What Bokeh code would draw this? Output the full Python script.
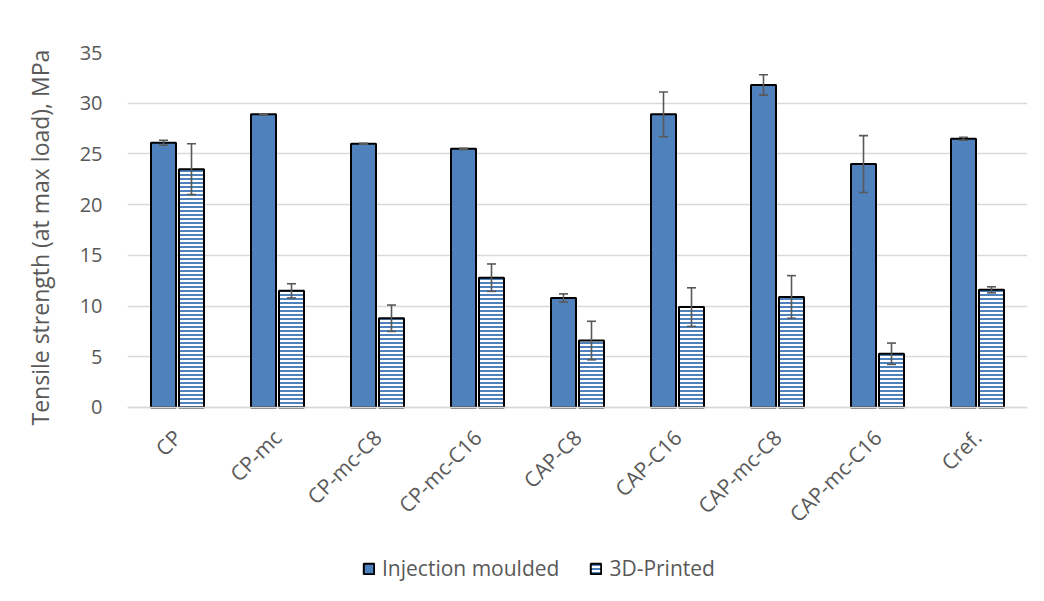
from bokeh.plotting import figure
from bokeh.models import ColumnDataSource, FactorRange, Legend, LegendItem, Range1d, Title
from bokeh.transform import dodge
from bokeh.embed import file_html
from bokeh.resources import INLINE
from math import pi

categories = ["CP", "CP-mc", "CP-mc-C8", "CP-mc-C16", "CAP-C8", "CAP-C16",
              "CAP-mc-C8", "CAP-mc-C16", "Cref."]
injection = [26.1, 28.9, 26.0, 25.5, 10.8, 28.9, 31.8, 24.0, 26.5]
injection_err = [0.25, 0.05, 0.05, 0.05, 0.4, 2.2, 1.0, 2.8, 0.15]
printed = [23.5, 11.5, 8.8, 12.8, 6.6, 9.9, 10.9, 5.3, 11.6]
printed_err = [2.5, 0.7, 1.3, 1.35, 1.9, 1.9, 2.1, 1.05, 0.3]
y_ticks = [0, 5, 10, 15, 20, 25, 30, 35]
y_label = "Tensile strength (at max load), MPa"

FONT = "Open Sans"
TXT = "#595959"
BLUE = "#4F81BD"

src = ColumnDataSource(dict(
    cat=categories,
    inj=injection,
    inj_lo=[v - e for v, e in zip(injection, injection_err)],
    inj_hi=[v + e for v, e in zip(injection, injection_err)],
    pr=printed,
    pr_lo=[v - e for v, e in zip(printed, printed_err)],
    pr_hi=[v + e for v, e in zip(printed, printed_err)],
))

# frame extends below zero to host the category labels and the legend
p = figure(frame_width=900, frame_height=541, output_backend="svg", toolbar_location=None,
           x_range=FactorRange(factors=categories, range_padding=0),
           y_range=Range1d(-18.34, 35),
           min_border_left=127, min_border_right=1, min_border_top=52,
           min_border_bottom=0)
p.outline_line_color = None

OFF = 0.14
W = 0.25
CAP = 0.045

r1 = p.vbar(x=dodge("cat", -OFF, range=p.x_range), top="inj", bottom=0, width=W,
            source=src, fill_color=BLUE, line_color="black", line_width=2)
r2 = p.vbar(x=dodge("cat", OFF, range=p.x_range), top="pr", bottom=0, width=W,
            source=src, fill_color="white", line_color="black", line_width=2,
            hatch_pattern="horizontal_line", hatch_color=BLUE, hatch_scale=4,
            hatch_weight=2)

for off, lo, hi in [(-OFF, "inj_lo", "inj_hi"), (OFF, "pr_lo", "pr_hi")]:
    p.segment(x0=dodge("cat", off, range=p.x_range), x1=dodge("cat", off, range=p.x_range),
              y0=lo, y1=hi, source=src, line_color=TXT, line_width=1.6)
    for yy in (lo, hi):
        p.segment(x0=dodge("cat", off - CAP, range=p.x_range),
                  x1=dodge("cat", off + CAP, range=p.x_range),
                  y0=yy, y1=yy, source=src, line_color=TXT, line_width=1.6)

p.ygrid.ticker = y_ticks
p.ygrid.grid_line_color = "#d9d9d9"
p.ygrid.grid_line_width = 1.5
p.xgrid.grid_line_color = None

p.yaxis.ticker = y_ticks
p.yaxis.axis_line_color = None
p.yaxis.major_tick_line_color = None
p.yaxis.minor_tick_line_color = None
p.yaxis.major_label_text_font = FONT
p.yaxis.major_label_text_font_size = "20px"
p.yaxis.major_label_text_color = TXT
p.yaxis.major_label_standoff = 19

ytitle = Title(text=y_label, align="left", offset=168, standoff=41,
               text_font=FONT, text_font_size="23px", text_font_style="normal",
               text_color=TXT)
p.add_layout(ytitle, "left")

p.xaxis.fixed_location = 0
p.xaxis.axis_line_color = "#d9d9d9"
p.xaxis.axis_line_width = 1.5
p.xaxis.major_tick_line_color = None
p.xaxis.minor_tick_line_color = None
p.xaxis.major_label_orientation = pi / 4
p.xaxis.major_label_text_font = FONT
p.xaxis.major_label_text_font_size = "21px"
p.xaxis.major_label_text_color = TXT
p.xaxis.major_label_standoff = 20

legend = Legend(items=[LegendItem(label="Injection moulded", renderers=[r1]),
                       LegendItem(label="3D-Printed", renderers=[r2])],
                orientation="horizontal", location=(235, 11))
legend.label_text_font = FONT
legend.label_text_font_size = "21px"
legend.label_text_color = TXT
legend.glyph_width = 13
legend.glyph_height = 13
legend.spacing = 30
legend.label_standoff = 7
legend.border_line_color = None
legend.background_fill_alpha = 0
legend.padding = 0
legend.margin = 0
p.add_layout(legend)

html = file_html(p, INLINE)
open("out.html", "w").write(html)
